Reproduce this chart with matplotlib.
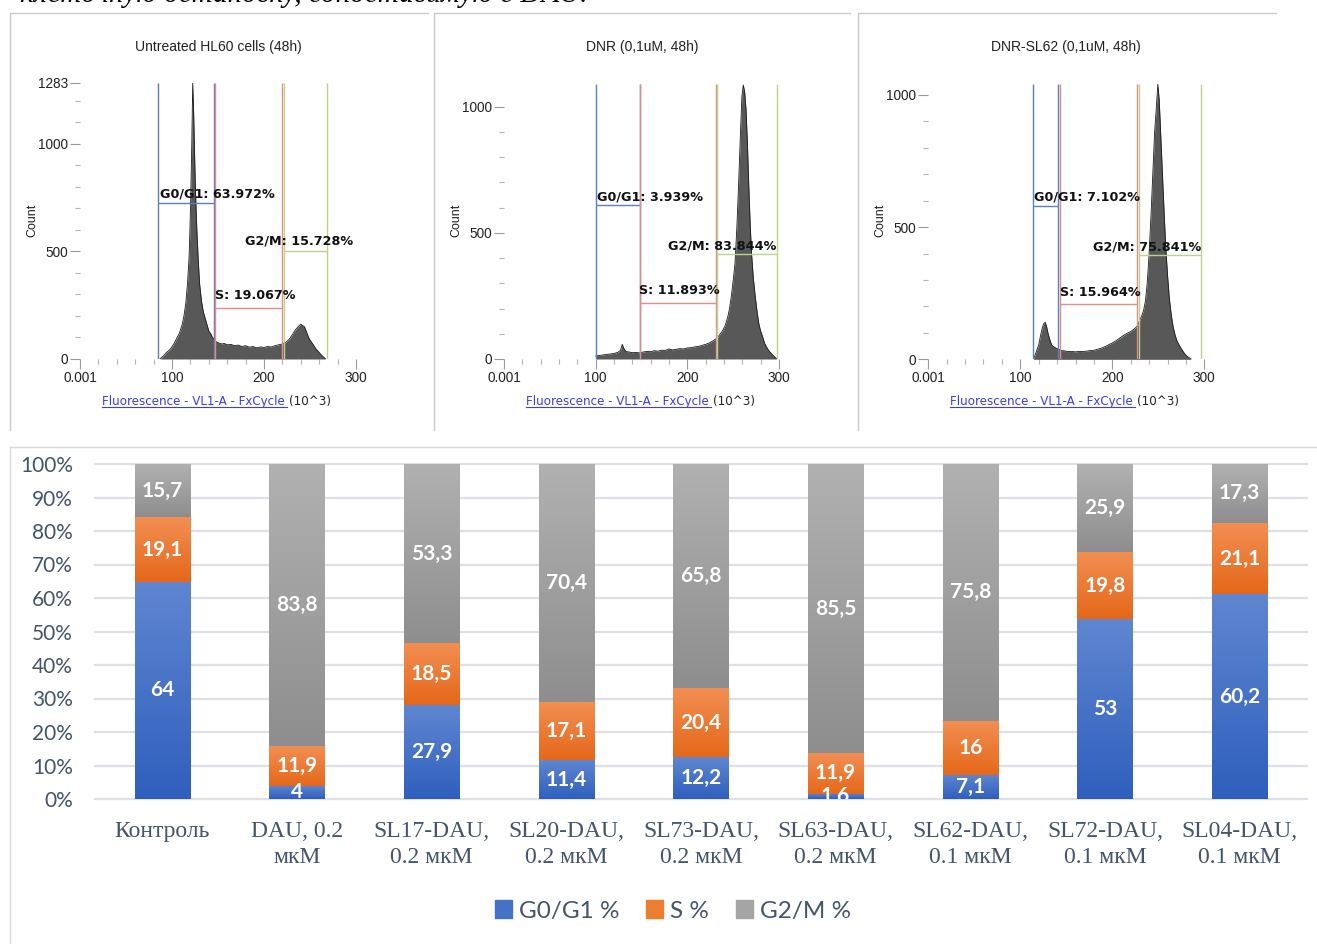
import numpy as np
import matplotlib.pyplot as plt
from matplotlib.colors import LinearSegmentedColormap
from matplotlib.patches import Rectangle
from matplotlib.lines import Line2D

W, H = 1317, 944

# ---- flow cytometry histograms (fluorescence x10^3 vs count) ----
h1_x = [87, 90, 94, 98, 102, 105, 108, 111, 113, 115, 117, 118.5, 119.5, 120.5,
        121.5, 122.5, 123.5, 124.5, 125.5, 127, 128.5, 130, 132, 134, 136, 138,
        140, 142, 144, 146, 148, 151, 154, 157, 160, 164, 168, 172, 176, 180,
        184, 188, 192, 196, 200, 204, 208, 212, 216, 220, 224, 228, 231, 234,
        237, 240, 242, 244, 246, 248, 250, 253, 256, 259, 262, 265, 267]
h1_y = [0, 12, 30, 45, 70, 95, 120, 160, 200, 260, 360, 470, 600, 780,
        1000, 1283, 1150, 960, 780, 600, 460, 350, 270, 220, 190, 160,
        130, 118, 100, 92, 80, 74, 70, 72, 66, 68, 62, 65, 58, 62,
        55, 58, 52, 56, 54, 58, 56, 62, 66, 70, 78, 95, 115, 135,
        150, 162, 155, 150, 128, 105, 88, 70, 50, 35, 20, 8, 0]

h2_x = [100, 104, 108, 112, 116, 120, 124, 127, 129, 131, 133, 136, 140, 144,
        148, 152, 156, 160, 164, 168, 172, 176, 180, 184, 188, 192, 196, 200,
        204, 208, 212, 216, 220, 224, 228, 232, 235, 238, 241, 244, 246, 248,
        250, 252, 254, 256, 258, 259.5, 261, 262.5, 264, 265.5, 267, 268.5,
        270, 272, 274, 276, 278, 280, 282, 284, 286, 288, 290, 293, 296, 297.5]
h2_y = [12, 14, 16, 18, 20, 22, 26, 34, 58, 40, 30, 28, 25, 26,
        24, 28, 30, 29, 33, 31, 35, 34, 40, 36, 39, 41, 40, 44,
        45, 48, 50, 54, 58, 64, 72, 82, 95, 110, 130, 165, 200, 250,
        310, 380, 520, 700, 900, 1040, 1086, 1060, 990, 860, 690, 540,
        420, 320, 250, 190, 140, 110, 90, 65, 50, 38, 28, 16, 6, 0]

h3_x = [114, 116, 118, 120, 122, 124, 125.5, 127, 128.5, 130, 132, 134, 136,
        139, 142, 145, 148, 152, 156, 160, 164, 168, 172, 176, 180, 184, 188,
        192, 196, 200, 204, 208, 212, 216, 220, 224, 227, 230, 232, 234, 236,
        238, 240, 242, 244, 246, 248, 249.5, 251, 252.5, 254, 256, 258, 260,
        262, 264, 266, 268, 270, 272, 275, 278, 281, 284, 286]
h3_y = [0, 15, 35, 55, 90, 120, 135, 140, 125, 100, 75, 55, 48,
        42, 38, 33, 32, 29, 30, 28, 30, 29, 31, 33, 34, 38, 42,
        48, 55, 62, 70, 80, 90, 98, 105, 115, 125, 148, 165, 185, 220,
        290, 400, 540, 700, 860, 960, 1040, 980, 860, 740, 580, 430, 320,
        230, 170, 125, 95, 72, 58, 40, 24, 12, 5, 0]

titles = ['Untreated HL60 cells (48h)', 'DNR (0,1uM, 48h)', 'DNR-SL62 (0,1uM, 48h)']
y_tops = [1283, 1089, 1040]
y_major = [[0, 500, 1000, 1283], [0, 500, 1000], [0, 500, 1000]]

# gates: (low, high, marker height) for G0/G1, S, G2/M
gates_g1 = [(85, 145.6, 724), (100, 148.4, 610), (113.5, 141.3, 581)]
gates_s = [(147, 220, 238), (148.6, 231.3, 223), (143.2, 226.5, 208)]
gates_g2 = [(222, 269, 503), (232.4, 297.5, 415), (228.7, 296.4, 393)]
pct_g1 = ['63.972%', '3.939%', '7.102%']
pct_s = ['19.067%', '11.893%', '15.964%']
pct_g2 = ['15.728%', '83.844%', '75.841%']
# label anchors (x, count) for G0/G1, G2/M, S
lab_g1 = [(87, 767), (101.5, 643), (114.9, 614)]
lab_g2 = [(179.3, 549), (178.9, 448), (179.0, 426)]
lab_s = [(146.7, 293), (147.3, 270), (143.2, 251)]

# ---- stacked cell-cycle bars ----
categories = ['Контроль', 'DAU, 0.2\nмкМ', 'SL17-DAU,\n0.2 мкМ', 'SL20-DAU,\n0.2 мкМ',
              'SL73-DAU,\n0.2 мкМ', 'SL63-DAU,\n0.2 мкМ', 'SL62-DAU,\n0.1 мкМ',
              'SL72-DAU,\n0.1 мкМ', 'SL04-DAU,\n0.1 мкМ']
g0g1 = [64, 4, 27.9, 11.4, 12.2, 1.6, 7.1, 53, 60.2]
s_phase = [19.1, 11.9, 18.5, 17.1, 20.4, 11.9, 16, 19.8, 21.1]
g2m = [15.7, 83.8, 53.3, 70.4, 65.8, 85.5, 75.8, 25.9, 17.3]
series_names = ['G0/G1 %', 'S %', 'G2/M %']


def rect(l, t, r, b):
    return [l / W, 1 - b / H, (r - l) / W, (b - t) / H]


def fx(x):
    return x / W


def fy(y):
    return 1 - y / H


fig = plt.figure(figsize=(W / 100, H / 100), dpi=100)
fig.patch.set_facecolor('white')

# last line of the preceding paragraph, mostly above the top edge
fig.text(fx(20), fy(2.5), 'клеточную остановку, сопоставимую с DAU.',
         family='Liberation Serif', style='italic', fontsize=21, va='baseline')

frame_c = '#cccccc'
for l, r in [(10, 428), (434, 850), (858, 1276)]:
    fig.add_artist(Line2D([fx(l), fx(r)], [fy(13), fy(13)], transform=fig.transFigure,
                          color=frame_c, lw=1))
    fig.add_artist(Line2D([fx(l), fx(l)], [fy(13), fy(430)], transform=fig.transFigure,
                          color=frame_c, lw=1))
fig.add_artist(Line2D([fx(10), fx(1317)], [fy(447), fy(447)], transform=fig.transFigure,
                      color='#d9d9d9', lw=1))
fig.add_artist(Line2D([fx(10), fx(10)], [fy(447), fy(944)], transform=fig.transFigure,
                      color='#d9d9d9', lw=1))

hists = [(h1_x, h1_y), (h2_x, h2_y), (h3_x, h3_y)]
ax_boxes = [(80, 83, 356, 359), (504, 84.3, 779, 359), (928.3, 84.3, 1204.3, 359.3)]
offsets = [0, 424, 848]

blue_c, red_c, green_c = '#5b7fc0', '#e38b8b', '#bcd38a'
lab_font = dict(family='DejaVu Sans', fontweight='bold', fontsize=9.2, color='#111111',
                va='center', ha='left', zorder=5)

renderer = fig.canvas.get_renderer()

for i in range(3):
    l, t, r, b = ax_boxes[i]
    ax = fig.add_axes(rect(l, t, r, b))
    hx, hy = hists[i]
    ax.fill_between(hx, hy, color='#585858', lw=0, zorder=2)
    ax.plot(hx, hy, color='#1a1a1a', lw=0.6, zorder=3)

    top = y_tops[i]
    for (lo, hi, hh), c in [(gates_g1[i], blue_c), (gates_s[i], red_c), (gates_g2[i], green_c)]:
        ax.vlines([lo, hi], 0, top, colors=c, lw=1, zorder=4)
        ax.hlines(hh, lo, hi, colors=c, lw=1, zorder=4)

    ax.text(*lab_g1[i], 'G0/G1: ' + pct_g1[i], **lab_font)
    ax.text(*lab_g2[i], 'G2/M: ' + pct_g2[i], **lab_font)
    ax.text(*lab_s[i], 'S: ' + pct_s[i], **lab_font)

    ax.set_xlim(0, 300)
    ax.set_ylim(0, top)
    for sp in ax.spines.values():
        sp.set_visible(False)
    ax.set_xticks([0, 100, 200, 300])
    ax.set_xticklabels(['0.001', '100', '200', '300'])
    ax.set_xticks([v for v in range(20, 300, 20) if v % 100], minor=True)
    ax.set_yticks(y_major[i])
    ax.set_yticks([v for v in range(100, top, 100) if v % 500], minor=True)
    ax.tick_params(which='major', length=7, width=0.8, color='#9a9a9a', pad=1.5,
                   labelsize=9.8, labelcolor='#222222')
    ax.tick_params(which='minor', length=3.5, width=0.8, color='#b5b5b5')
    for lab in ax.get_xticklabels() + ax.get_yticklabels():
        lab.set_family('Liberation Sans')

    off = offsets[i]
    fig.text(fx(218 + off), fy(47), titles[i], family='Liberation Sans', fontsize=10,
             ha='center', va='center', color='#222222')
    fig.text(fx(32 + off), fy(220), 'Count', family='Liberation Sans', fontsize=9,
             rotation=90, ha='center', va='center', color='#222222')

    t1 = fig.text(fx(102 + off), fy(401), 'Fluorescence - VL1-A - FxCycle ',
                  family='DejaVu Sans', fontsize=8.6, color='#3b3bf0', va='center')
    bb = t1.get_window_extent(renderer)
    fig.add_artist(Line2D([bb.x0 / W, (bb.x1 - 2) / W], [(bb.y0 + 1) / H, (bb.y0 + 1) / H],
                          transform=fig.transFigure, color='#3b3bf0', lw=0.8))
    fig.text((bb.x1 + 1) / W, fy(401), '(10^3)', family='DejaVu Sans', fontsize=8.6,
             color='#222222', va='center')

# ---- bar chart ----
ax = fig.add_axes(rect(95, 464, 1307, 799))
tot = np.array(g0g1) + np.array(s_phase) + np.array(g2m)
fracs = [np.array(v) / tot for v in (g0g1, s_phase, g2m)]
grad = [('#2f5fbd', '#5f86d0'), ('#e5681a', '#f28f53'), ('#8e8e8e', '#b1b1b1')]
solid = ['#4472c4', '#ed7d31', '#a5a5a5']
values = [g0g1, s_phase, g2m]
xs = np.arange(len(categories))
w = 0.41
grad_img = np.linspace(0, 1, 128).reshape(-1, 1)

bottom = np.zeros(len(categories))
for k in range(3):
    cmap = LinearSegmentedColormap.from_list('seg%d' % k, grad[k])
    for j, x in enumerate(xs):
        b0 = bottom[j]
        b1 = b0 + fracs[k][j]
        ax.imshow(grad_img, extent=[x - w / 2, x + w / 2, b0, b1], origin='lower',
                  cmap=cmap, aspect='auto', zorder=2, interpolation='bilinear')
        txt = ('%g' % values[k][j]).replace('.', ',')
        ax.text(x, (b0 + b1) / 2, txt, ha='center', va='center', color='white',
                family='Lato', fontweight='bold', fontsize=15, zorder=4, clip_on=True)
    bottom = bottom + fracs[k]

ax.set_xlim(-0.5, len(categories) - 0.5)
ax.set_ylim(0, 1)
ax.set_yticks(np.arange(0, 1.01, 0.1))
ax.set_yticklabels(['%d%%' % v for v in range(0, 101, 10)])
ax.yaxis.grid(True, color='#dde1e7', lw=1.6)
ax.set_axisbelow(True)
ax.set_xticks(xs)
ax.set_xticklabels(categories, family='Liberation Serif', fontsize=17, color='#44546a',
                   linespacing=1.3)
for lab in ax.get_yticklabels():
    lab.set_family('Lato')
    lab.set_fontsize(15)
    lab.set_color('#44546a')
ax.tick_params(axis='both', length=0)
ax.tick_params(axis='x', pad=16)
ax.tick_params(axis='y', pad=16)
for sp in ax.spines.values():
    sp.set_visible(False)
for gl in ax.get_ygridlines():
    gl.set_clip_on(False)

handles = [Rectangle((0, 0), 1, 1, color=c) for c in solid]
fig.legend(handles, series_names, loc='center', bbox_to_anchor=(fx(673), fy(911)),
           ncol=3, frameon=False, prop={'family': 'Lato', 'size': 17.5}, labelcolor='#44546a',
           handlelength=0.7, handleheight=0.7, handletextpad=0.3, columnspacing=1.1)

fig.savefig('out.png', dpi=100, facecolor='white')
